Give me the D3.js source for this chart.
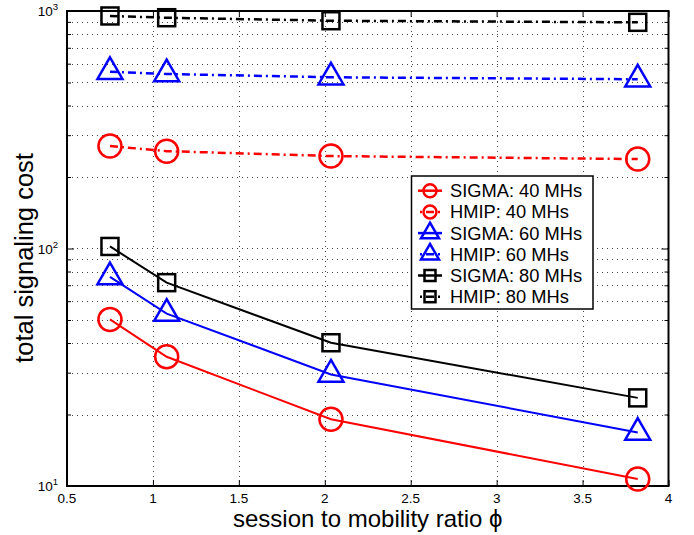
<!DOCTYPE html>
<html>
<head>
<meta charset="utf-8">
<script src="https://cdn.jsdelivr.net/npm/d3@7"></script>
<style>
  body { margin: 0; background: #fff; }
  text { font-family: "Liberation Sans", Arial, Helvetica, sans-serif; }
</style>
</head>
<body>
<div id="chart"></div>
<script>
// data
var ratio = [0.75, 1.08, 2.036, 3.821];
var sigma40 = [50.3, 35.0, 19.1, 10.7];
var hmip40 = [270, 257, 245, 238];
var sigma60 = [75.9, 53.2, 29.5, 16.8];
var hmip60 = [555, 543, 526, 516];
var sigma80 = [102, 71.8, 40.1, 23.5];
var hmip80 = [953, 937, 910, 896];
var xTicks = [0.5, 1, 1.5, 2, 2.5, 3, 3.5, 4];
var yTicks = [10, 100, 1000];
var legendNames = ["SIGMA: 40 MHs", "HMIP: 40 MHs", "SIGMA: 60 MHs", "HMIP: 60 MHs", "SIGMA: 80 MHs", "HMIP: 80 MHs"];

var W = 694, H = 535;
var plotLeft = 67, plotRight = 668.5, plotTop = 11, plotBottom = 486;

var svg = d3.select("#chart").append("svg")
              .attr("width", W)
              .attr("height", H);

var x = d3.scaleLinear().domain([0.5, 4]).range([plotLeft, plotRight]);
var y = d3.scaleLog().domain([10, 1000]).range([plotBottom, plotTop]);

// minor ticks for log axis 2..9 of every decade
var minorY = [];
[10, 100].forEach(function(d) {
  for (var k = 2; k <= 9; k++) minorY.push(d * k);
});

// grid
var grid = svg.append("g").attr("stroke", "#444").attr("stroke-width", 1).attr("stroke-dasharray", "1,4");
grid.selectAll(".gy").data(minorY.concat([100])).enter().append("line")
    .attr("x1", plotLeft).attr("x2", plotRight)
    .attr("y1", function(d) { return Math.round(y(d)) + 0.5; })
    .attr("y2", function(d) { return Math.round(y(d)) + 0.5; });
grid.selectAll(".gx").data(xTicks.slice(1, -1)).enter().append("line")
    .attr("y1", plotTop).attr("y2", plotBottom)
    .attr("x1", function(d) { return Math.round(x(d)) + 0.5; })
    .attr("x2", function(d) { return Math.round(x(d)) + 0.5; });

// axes (ticks pointing inward on all four sides)
function styleAxis(g) {
  g.select(".domain").remove();
  g.selectAll(".tick line").attr("stroke", "#000").attr("stroke-width", 1);
  g.selectAll(".tick text").remove();
}
svg.append("g").attr("transform", "translate(0," + plotBottom + ")")
   .call(d3.axisBottom(x).tickValues(xTicks).tickSize(-6)).call(styleAxis);
svg.append("g").attr("transform", "translate(0," + plotTop + ")")
   .call(d3.axisTop(x).tickValues(xTicks).tickSize(-6)).call(styleAxis);
svg.append("g").attr("transform", "translate(" + plotLeft + ",0)")
   .call(d3.axisLeft(y).tickValues(yTicks).tickSize(-7)).call(styleAxis);
svg.append("g").attr("transform", "translate(" + plotRight + ",0)")
   .call(d3.axisRight(y).tickValues(yTicks).tickSize(-7)).call(styleAxis);
svg.append("g").attr("transform", "translate(" + plotLeft + ",0)")
   .call(d3.axisLeft(y).tickValues(minorY).tickSize(-4)).call(styleAxis);
svg.append("g").attr("transform", "translate(" + plotRight + ",0)")
   .call(d3.axisRight(y).tickValues(minorY).tickSize(-4)).call(styleAxis);

svg.append("rect")
   .attr("x", plotLeft).attr("y", plotTop)
   .attr("width", plotRight - plotLeft).attr("height", plotBottom - plotTop)
   .attr("fill", "none").attr("stroke", "#000").attr("stroke-width", 2);

// tick labels
svg.selectAll(".xl").data(xTicks).enter().append("text")
   .attr("x", function(d) { return x(d); })
   .attr("y", plotBottom + 17)
   .attr("text-anchor", "middle")
   .attr("font-size", 13.5)
   .text(function(d) { return d; });

var yl = svg.selectAll(".yl").data(yTicks).enter().append("text")
   .attr("x", plotLeft - 9)
   .attr("y", function(d) { return y(d) + 5; })
   .attr("text-anchor", "end")
   .attr("font-size", 13.5);
yl.append("tspan").text("10");
yl.append("tspan").attr("dy", -6).attr("font-size", 9.5)
  .text(function(d) { return Math.round(Math.log10(d)); });

// axis titles
svg.append("text")
   .attr("x", (plotLeft + plotRight) / 2)
   .attr("y", 527)
   .attr("text-anchor", "middle")
   .attr("font-size", 24)
   .text("session to mobility ratio \u03d5");
svg.append("text")
   .attr("transform", "translate(33,258) rotate(-90)")
   .attr("text-anchor", "middle")
   .attr("font-size", 25.5)
   .text("total signaling cost");

// markers
function marker(g, type, size, color, sw) {
  if (type === "circle") {
    g.append("circle").attr("r", size / 2);
  } else if (type === "triangle") {
    var h = size * Math.sqrt(3) / 2;
    g.append("path").attr("d", "M0," + (-2 * h / 3) + "L" + (size / 2) + "," + (h / 3) + "L" + (-size / 2) + "," + (h / 3) + "Z");
  } else {
    g.append("rect").attr("x", -size / 2).attr("y", -size / 2).attr("width", size).attr("height", size);
  }
  g.selectAll("*").attr("fill", "none").attr("stroke", color).attr("stroke-width", sw);
}

var series = [
  { vals: sigma40, color: "#ff0000", type: "circle", size: 23, dash: null },
  { vals: hmip40, color: "#ff0000", type: "circle", size: 23, dash: "8,4,2,4" },
  { vals: sigma60, color: "#0000ff", type: "triangle", size: 25, dash: null },
  { vals: hmip60, color: "#0000ff", type: "triangle", size: 25, dash: "8,4,2,4" },
  { vals: sigma80, color: "#000000", type: "square", size: 17, dash: null },
  { vals: hmip80, color: "#000000", type: "square", size: 17, dash: "8,4,2,4" }
];

var line = d3.line()
  .x(function(d) { return x(d[0]); })
  .y(function(d) { return y(d[1]); });

var plot = svg.append("g");
series.forEach(function(s) {
  var pts = d3.zip(ratio, s.vals);
  plot.append("path")
      .attr("d", line(pts))
      .attr("fill", "none")
      .attr("stroke", s.color)
      .attr("stroke-width", s.dash ? 2.5 : 2)
      .attr("stroke-dasharray", s.dash);
  pts.forEach(function(p) {
    var g = plot.append("g").attr("transform", "translate(" + x(p[0]) + "," + y(p[1]) + ")");
    marker(g, s.type, s.size, s.color, 2.5);
  });
});

// legend
var lg = svg.append("g");
lg.append("rect")
  .attr("x", 411.5).attr("y", 176)
  .attr("width", 181.5).attr("height", 133)
  .attr("fill", "#fff").attr("stroke", "#000").attr("stroke-width", 1.5);
var legSizes = { circle: 13, triangle: 18, square: 11 };
series.forEach(function(s, i) {
  var cy = 190.7 + i * 21.2;
  if (s.dash) {
    lg.append("line").attr("x1", 420).attr("x2", 440).attr("y1", cy).attr("y2", cy)
      .attr("stroke", s.color).attr("stroke-width", 2.5).attr("stroke-dasharray", "2,4,8,4");
  } else {
    lg.append("line").attr("x1", 418).attr("x2", 442).attr("y1", cy).attr("y2", cy)
      .attr("stroke", s.color).attr("stroke-width", 2.5);
  }
  var g = lg.append("g").attr("transform", "translate(430," + cy + ")");
  marker(g, s.type, legSizes[s.type], s.color, 2.5);
  lg.append("text")
    .attr("x", 450).attr("y", cy + 6.5)
    .attr("font-size", 18.3)
    .text(legendNames[i]);
});
</script>
</body>
</html>
